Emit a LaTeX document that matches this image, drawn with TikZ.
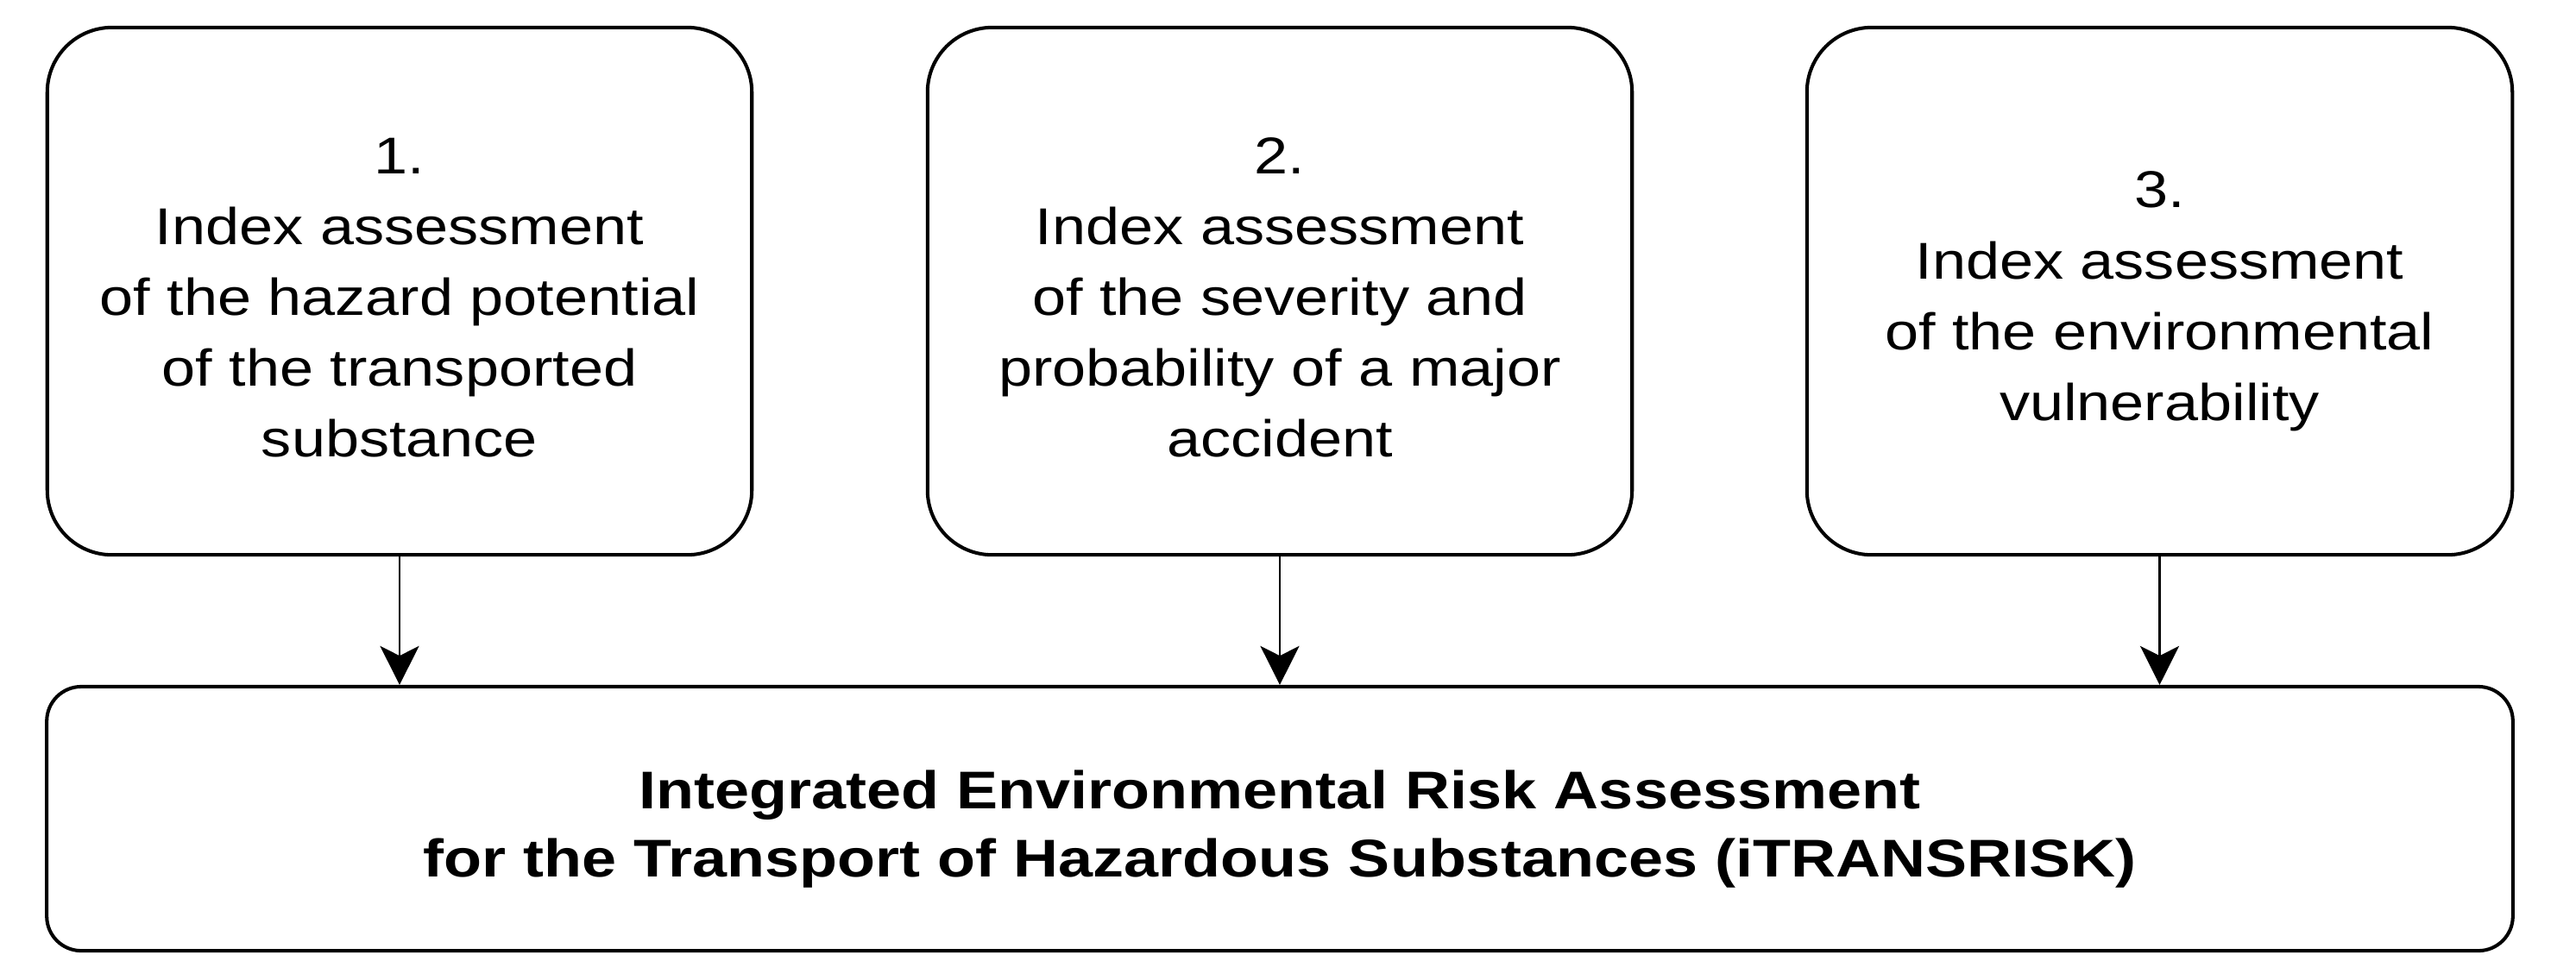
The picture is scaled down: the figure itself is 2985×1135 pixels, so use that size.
\documentclass[tikz,border=0pt]{standalone}
\usepackage{fontspec}
\newfontfamily\rf[FakeStretch=1.17]{Liberation Sans}
\usetikzlibrary{arrows.meta}
\newcommand\tstrut[1]{\rule{0pt}{#1}}
\begin{document}
\begin{tikzpicture}[x=0.01cm,y=-0.01cm,
  stepbox/.style={draw=black, line width=1.15pt, rounded corners=0.75cm,
    minimum width=8.16cm, minimum height=6.11cm, inner sep=0pt, align=center,
    font={\rf\fontsize{17.07pt}{23.33pt}\selectfont}},
  resultbox/.style={draw=black, line width=1.15pt, rounded corners=0.4cm,
    minimum width=28.56cm, minimum height=3.06cm, inner sep=0pt, align=center,
    font={\rf\bfseries\fontsize{17.5pt}{22.6pt}\selectfont}},
  arr/.style={draw=black, line width=0.75pt,
    -{Stealth[length=12.8pt, width=12.8pt, inset=3.2pt]}}]
\useasboundingbox (0,0) rectangle (2985,1135);
\node[stepbox] (b1) at (463,337.5) {\tstrut{0.57cm}1.\\Index assessment\\of the hazard potential\\of the transported\\substance};
\node[stepbox] (b2) at (1483,337.5) {\tstrut{0.57cm}2.\\Index assessment\\of the severity and\\probability of a major\\accident};
\node[stepbox, minimum width=8.17cm] (b3) at (2502.5,337.5) {\tstrut{0.53cm}3.\\Index assessment\\of the environmental\\\smash{vulnerability}};
\node[resultbox] (res) at (1483,949) {\tstrut{0.56cm}Integrated Environmental Risk Assessment\\\smash{for the Transport of Hazardous Substances (iTRANSRISK)}};
\draw[arr] (b1.south) -- (b1.south |- res.north);
\draw[arr] (b2.south) -- (b2.south |- res.north);
\draw[arr] (b3.south) -- (b3.south |- res.north);
\end{tikzpicture}
\end{document}
